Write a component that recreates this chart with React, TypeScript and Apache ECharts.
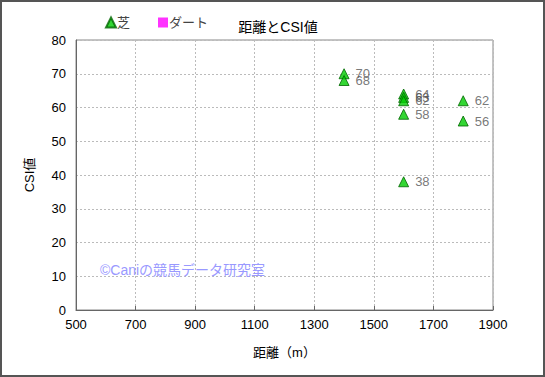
import React, { useEffect, useRef } from "react";
import * as echarts from "echarts";

const turfDistance = [1400, 1400, 1600, 1600, 1600, 1600, 1600, 1800, 1800];
const turfCSI = [70, 68, 64, 63, 62, 58, 38, 62, 56];
const dirtDistance: number[] = [];
const dirtCSI: number[] = [];
const xTicks = [500, 700, 900, 1100, 1300, 1500, 1700, 1900];

const FONT = "'Liberation Sans', 'Noto Sans CJK JP', sans-serif";

export default function App() {
  const ref = useRef<HTMLDivElement>(null);
  useEffect(() => {
    const chart = echarts.init(ref.current!, null, { renderer: "svg" });
    const turf = turfDistance.map((d, i) => [d, turfCSI[i]]);
    const dirt = dirtDistance.map((d, i) => [d, dirtCSI[i]]);
    chart.setOption({
      animation: false,
      backgroundColor: "#fff",
      textStyle: { fontFamily: FONT },
      title: {
        text: "距離とCSI値",
        left: 273,
        top: 15,
        textAlign: "center",
        textStyle: { fontSize: 14, fontWeight: "normal", color: "#000", fontFamily: FONT },
      },
      legend: {
        left: 100,
        top: 11,
        itemWidth: 10,
        itemHeight: 10,
        itemGap: 28,
        textStyle: { fontSize: 13, color: "#444", fontFamily: FONT, padding: [0, 0, 0, -4] },
        data: [
          { name: "芝", icon: "triangle" },
          { name: "ダート", icon: "rect" },
        ],
      },
      grid: { left: 76, right: 52, top: 40, bottom: 67, show: true, borderColor: "#888", borderWidth: 1 },
      xAxis: {
        type: "value",
        min: xTicks[0],
        max: xTicks[xTicks.length - 1],
        interval: 200,
        name: "距離（m）",
        nameLocation: "middle",
        nameGap: 36,
        nameTextStyle: { fontSize: 13, color: "#000", fontFamily: FONT },
        axisLine: { lineStyle: { color: "#666" } },
        axisTick: { show: true, inside: true, length: 4, lineStyle: { color: "#666" } },
        axisLabel: { fontSize: 13, color: "#000", margin: 8, fontFamily: FONT, formatter: (v: number) => String(v) },
        splitLine: { show: true, lineStyle: { color: "#bbb", type: [2, 2] } },
      },
      yAxis: {
        type: "value",
        min: 0,
        max: 80,
        interval: 10,
        name: "CSI値",
        nameLocation: "middle",
        nameGap: 40,
        nameRotate: 90,
        nameTextStyle: { fontSize: 13, color: "#000", fontFamily: FONT },
        axisLine: { show: true, lineStyle: { color: "#666" } },
        axisTick: { show: false },
        axisLabel: { fontSize: 13, color: "#000", margin: 10, fontFamily: FONT },
        splitLine: { show: true, lineStyle: { color: "#bbb", type: [2, 2] } },
      },
      series: [
        {
          name: "芝",
          type: "scatter",
          data: turf,
          symbol: "triangle",
          symbolSize: 10,
          itemStyle: { color: "#00cc00", borderColor: "#006600", borderWidth: 1 },
          label: {
            show: true,
            position: "right",
            distance: 6,
            formatter: (p: any) => String(p.value[1]),
            fontSize: 13,
            color: "#555",
            fontFamily: FONT,
          },
          labelLayout: { hideOverlap: false },
        },
        {
          name: "ダート",
          type: "scatter",
          data: dirt,
          symbol: "rect",
          symbolSize: 9,
          itemStyle: { color: "#ff00ff" },
        },
      ],
      graphic: [
        {
          type: "text",
          left: 100,
          top: 263,
          style: { text: "©Caniの競馬データ研究室", fontSize: 14, fill: "#9999ff", fontFamily: FONT },
          z: 10,
        },
        {
          type: "rect",
          shape: { x: 1, y: 1, width: 543, height: 375 },
          style: { fill: "none", stroke: "#555", lineWidth: 2 },
          silent: true,
        },
      ],
    });
    return () => chart.dispose();
  }, []);
  return (
    <div style={{ position: "fixed", left: 0, top: 0, width: 545, height: 377 }}>
      <div ref={ref} style={{ width: 545, height: 377 }} />
    </div>
  );
}
